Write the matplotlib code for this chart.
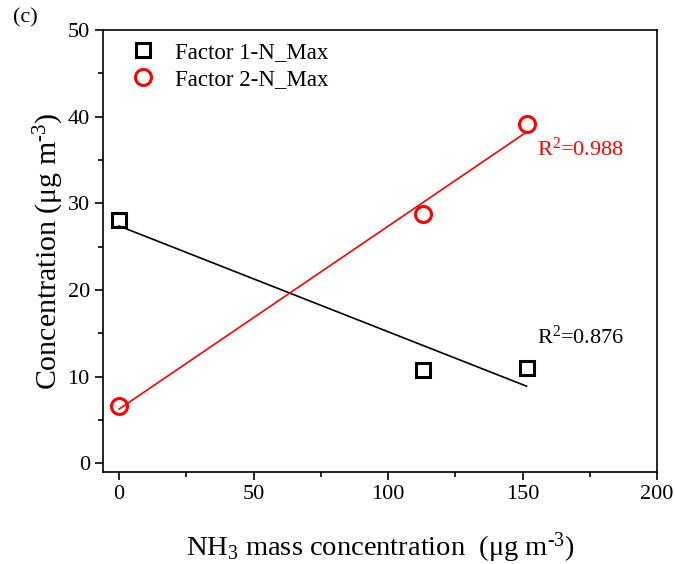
import matplotlib.pyplot as plt
import numpy as np
from matplotlib.ticker import MultipleLocator

# data
nh3 = [0, 113, 151.5]
factor1 = [28.1, 10.8, 11.0]
factor2 = [6.6, 28.8, 39.2]
r2_f1 = "0.876"
r2_f2 = "0.988"

plt.rcParams['font.family'] = 'Liberation Serif'
plt.rcParams['mathtext.fontset'] = 'custom'
plt.rcParams['mathtext.rm'] = 'Liberation Serif'
plt.rcParams['mathtext.it'] = 'Liberation Serif:italic'

fig = plt.figure(figsize=(6.75, 5.64), dpi=100)
ax = fig.add_axes([0.1526, 0.163, 0.8207, 0.7838])

ax.plot(nh3, factor1, 's', mfc='none', mec='black', mew=2.2, ms=10,
        label='Factor 1-N_Max', zorder=3)
ax.plot(nh3, factor2, 'o', mfc='none', mec='red', mew=2.2, ms=11.5,
        label='Factor 2-N_Max', zorder=3)

# linear fits
x = np.array(nh3)
p1 = np.polyfit(x, factor1, 1)
p2 = np.polyfit(x, factor2, 1)
ax.plot(x[[0, -1]], np.polyval(p1, x[[0, -1]]), color='black', lw=1.2)
ax.plot(x[[0, -1]], np.polyval(p2, x[[0, -1]]), color='red', lw=1.2)

ax.text(155.5, 36.2, r'R$^{2}$=' + r2_f2, color='red', fontsize=16, va='center')
ax.text(155.5, 14.6, r'R$^{2}$=' + r2_f1, color='black', fontsize=16, va='center')

ax.set_xlim(-6, 200)
ax.set_ylim(-1, 50)
ax.xaxis.set_major_locator(MultipleLocator(50))
ax.xaxis.set_minor_locator(MultipleLocator(25))
ax.yaxis.set_major_locator(MultipleLocator(10))
ax.yaxis.set_minor_locator(MultipleLocator(5))
ax.tick_params(which='both', direction='out', top=False, right=False,
               width=1.2, labelsize=16)
ax.tick_params(which='major', length=6)
ax.tick_params(which='minor', length=3.5)
for s in ax.spines.values():
    s.set_linewidth(1.2)

ax.set_xlabel(r'NH$_3$ mass concentration  ($\mathrm{\mu}$g m$^{\text{-}3}$)', fontsize=20.5, labelpad=19)
ax.set_ylabel(r'Concentration ($\mathrm{\mu}$g m$^{\text{-}3}$)', fontsize=21.5, labelpad=1)

ax.legend(loc='upper left', frameon=False, fontsize=16.5, handletextpad=0.4,
          borderaxespad=0.2, labelspacing=0.25, bbox_to_anchor=(0.006, 1.0045))

fig.text(0.019, 0.968, '(c)', fontsize=16, va='center')

fig.savefig('out.png', dpi=100)
